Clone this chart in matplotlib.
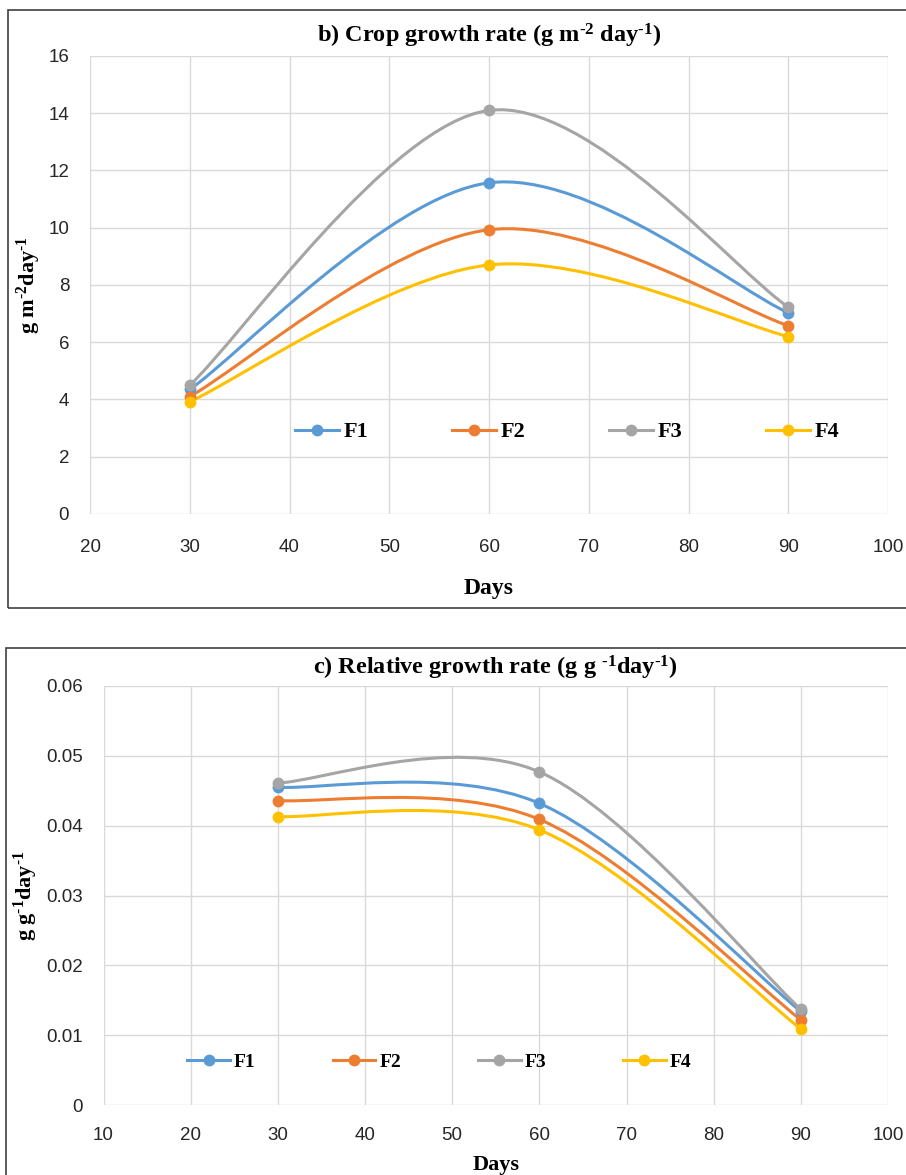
import numpy as np
import matplotlib
matplotlib.use("Agg")
import matplotlib.pyplot as plt
from matplotlib.path import Path
from matplotlib.patches import PathPatch, Rectangle
from matplotlib.lines import Line2D

plt.rcParams.update({"font.family": "Liberation Sans", "mathtext.default": "regular"})

# |>- Data -<|
days = [30, 60, 90]
series_names = ["F1", "F2", "F3", "F4"]
series_colors = ["#5B9BD5", "#ED7D31", "#A5A5A5", "#FFC000"]

cgr_f1 = [4.35, 11.57, 7.03]
cgr_f2 = [4.10, 9.93, 6.58]
cgr_f3 = [4.50, 14.10, 7.23]
cgr_f4 = [3.92, 8.70, 6.20]

rgr_f1 = [0.0455, 0.0432, 0.0134]
rgr_f2 = [0.0436, 0.0409, 0.0122]
rgr_f3 = [0.0461, 0.0477, 0.0137]
rgr_f4 = [0.0413, 0.0394, 0.0109]

cgr_xticks = [20, 30, 40, 50, 60, 70, 80, 90, 100]
cgr_yticks = [0, 2, 4, 6, 8, 10, 12, 14, 16]
rgr_xticks = [10, 20, 30, 40, 50, 60, 70, 80, 90, 100]
rgr_yticks = [0, 0.01, 0.02, 0.03, 0.04, 0.05, 0.06]


def smooth_path(xs, ys):
    # Excel-style smoothed line: cubic Bezier segments through the points
    pts = np.column_stack([xs, ys]).astype(float)
    n = len(pts)
    verts = [pts[0]]
    codes = [Path.MOVETO]
    for i in range(n - 1):
        p0 = pts[max(i - 1, 0)]
        p1 = pts[i]
        p2 = pts[i + 1]
        p3 = pts[min(i + 2, n - 1)]
        verts += [p1 + (p2 - p0) / 6, p2 - (p3 - p1) / 6, p2]
        codes += [Path.CURVE4] * 3
    return Path(verts, codes)


serif_bold = dict(family="Liberation Serif", weight="bold")
H = "\u2010"  # hyphen used in the superscripts (not a math minus)

fig = plt.figure(figsize=(9.06, 11.75), dpi=100)

# panel frames
fig.patches.append(Rectangle((8 / 906, 1 - 608 / 1175), 1.0, 598 / 1175, transform=fig.transFigure,
                             fill=False, edgecolor="#404040", linewidth=1.2))
fig.patches.append(Rectangle((6 / 906, -0.05), 1.0, 1 - 648 / 1175 + 0.05, transform=fig.transFigure,
                             fill=False, edgecolor="#404040", linewidth=1.2))

ax1 = fig.add_axes([90 / 906, 1 - 514 / 1175, 798 / 906, 458 / 1175])
ax2 = fig.add_axes([103.5 / 906, 1 - 1105 / 1175, 784.5 / 906, 419 / 1175])

panels = [
    (ax1, [cgr_f1, cgr_f2, cgr_f3, cgr_f4], cgr_xticks, cgr_yticks,
     f"b) Crop growth rate (g m$^{{{H}2}}$ day$^{{{H}1}}$)", f"g m$^{{{H}2}}$day$^{{{H}1}}$",
     (0.598, 0.179), 16, 2.0, 3.75, 18, 10),
    (ax2, [rgr_f1, rgr_f2, rgr_f3, rgr_f4], rgr_xticks, rgr_yticks,
     f"c) Relative growth rate (g g $^{{{H}1}}$day$^{{{H}1}}$)", f"g g$^{{{H}1}}$day$^{{{H}1}}$",
     (0.428, 0.103), 14, 2.2, 3.95, 16, 8),
]

for ax, data, xt, yt, title, ylab, leg_pos, leg_fs, hl, cs, xpad, tpad in panels:
    handles = []
    for vals, name, col in zip(data, series_names, series_colors):
        ax.add_patch(PathPatch(smooth_path(days, vals), facecolor="none", edgecolor=col,
                               linewidth=2.2, zorder=3))
        ax.plot(days, vals, linestyle="none", marker="o", markersize=7.5, color=col, zorder=4)
        handles.append(Line2D([], [], color=col, linewidth=2.2, marker="o", markersize=7.5, label=name))

    ax.set_xlim(xt[0], xt[-1])
    ax.set_ylim(yt[0], yt[-1])
    ax.set_xticks(xt)
    ax.set_yticks(yt)
    if ax is ax2:
        ax.set_yticklabels([f"{v:.2f}" if v else "0" for v in yt])
    ax.tick_params(length=0, labelsize=13.5, colors="#262626")
    ax.tick_params(axis="x", pad=xpad)
    ax.tick_params(axis="y", pad=15)
    ax.grid(True, color="#d9d9d9", linewidth=1)
    ax.set_axisbelow(True)
    for s in ax.spines.values():
        s.set_visible(False)

    ax.set_title(title, fontsize=17.5, pad=tpad, **serif_bold)
    ax.set_ylabel(ylab, fontsize=16, labelpad=4, **serif_bold)

    ax.legend(handles=handles, loc="center", bbox_to_anchor=leg_pos, ncol=4, frameon=False,
              handlelength=hl, handletextpad=0.2, columnspacing=cs,
              prop=dict(family="Liberation Serif", weight="bold", size=leg_fs))

ax1.set_xlabel("Days", fontsize=17, labelpad=16, **serif_bold)
ax2.set_xlabel("Days", fontsize=16, labelpad=8, **serif_bold)

fig.savefig("out.png", dpi=100)
